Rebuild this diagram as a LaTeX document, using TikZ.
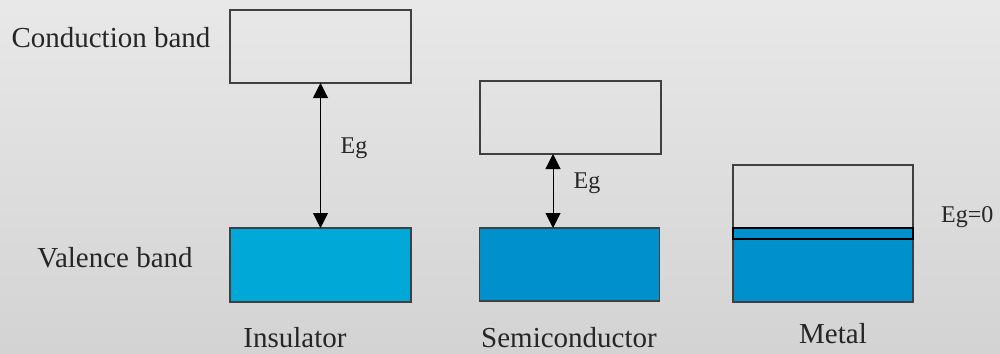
\documentclass[tikz,border=0pt]{standalone}
\usepackage{fontspec}
\setmainfont{Liberation Serif}
\usetikzlibrary{arrows.meta}
\definecolor{bgtop}{HTML}{E8E8E8}
\definecolor{bgbot}{HTML}{D3D3D3}
\definecolor{insblue}{HTML}{00A8D7}
\definecolor{semblue}{HTML}{0090CC}
\definecolor{edge}{HTML}{404040}
\begin{document}
\begin{tikzpicture}[x=1pt,y=-1pt,
  band/.style={draw=edge,line width=1.2pt,inner sep=0pt,outer sep=0pt,minimum width=181pt},
  lbl/.style={font=\fontsize{29}{32}\selectfont,inner sep=0pt,text=black!85},
  eglbl/.style={font=\fontsize{24}{27}\selectfont,inner sep=0pt,text=black!85},
  gap/.style={line width=1pt,black,{Triangle[length=15pt,width=15pt]}-{Triangle[length=15pt,width=15pt]}}]
\useasboundingbox (0,0) rectangle (1000,353);
\shade[top color=bgtop,bottom color=bgbot] (0,0) rectangle (1000,353);
% Insulator
\node[band,minimum height=73pt] (icb) at (320.5,46.5) {};
\node[band,fill=insblue,minimum height=74pt] (ivb) at (320.5,265) {};
\draw[gap] (ivb.north) -- (icb.south);
\node[eglbl] (ieg) at (354,148) {Eg};
% Semiconductor
\node[band,minimum width=181pt,minimum height=73pt] (scb) at (570.5,117.5) {};
\node[band,fill=semblue,minimum width=180pt,minimum height=73pt] (svb) at (569.5,264.5) {};
\draw[gap] (svb.north -| 553,0) -- (scb.south -| 553,0);
\node[eglbl] (seg) at (587,183) {Eg};
% Metal
\node[band,minimum width=180pt,minimum height=63pt] (mcb) at (823,196.5) {};
\node[band,fill=semblue,minimum width=180pt,minimum height=63pt] (mvb) at (823,270.5) {};
\node[draw=black,line width=1.4pt,fill=semblue,inner sep=0pt,outer sep=0pt,minimum width=180pt,minimum height=11pt] (mstrip) at (823,233.5) {};
\node[eglbl,anchor=west] (meg) at (941,217) {Eg=0};
% Labels
\node[lbl] (cbl) at (111,38) {Conduction band};
\node[lbl] (vbl) at (115,258) {Valence band};
\node[lbl] (ins) at (295,338) {Insulator};
\node[lbl] (sem) at (569,338) {Semiconductor};
\node[lbl] (met) at (833,334) {Metal};
\end{tikzpicture}
\end{document}
